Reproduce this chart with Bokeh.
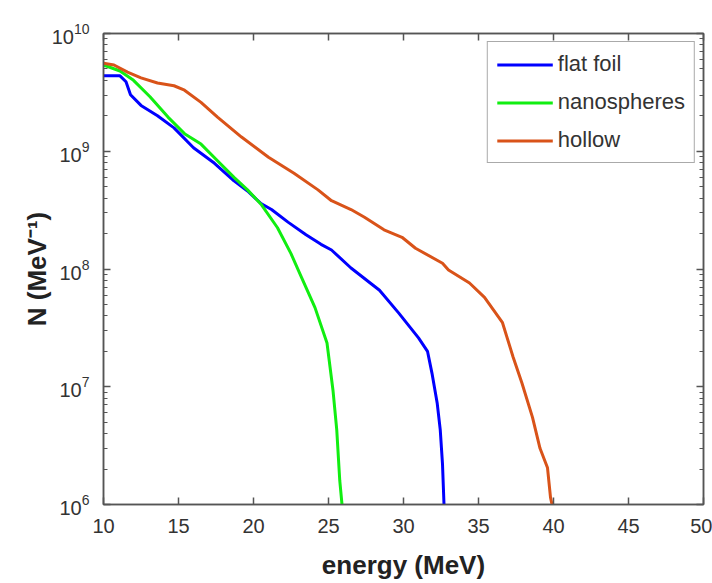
from bokeh.plotting import figure
from bokeh.models import (LinearAxis, LogAxis, FixedTicker, LogTicker, Legend, LegendItem,
                          Range1d, CustomJSTickFormatter)
from bokeh.embed import file_html
from bokeh.resources import INLINE

# ---- data ----
flat_E = [10, 11.1, 11.5, 11.8, 12.5, 13.6, 14.7, 16.0, 17.4, 18.7, 19.6, 20.5, 21.2, 22.3,
          23.5, 24.5, 25.2, 26.5, 28.4, 29.7, 31.0, 31.6, 31.9, 32.25, 32.45, 32.6, 32.7]
flat_N = [4.37e9, 4.37e9, 3.89e9, 3.02e9, 2.45e9, 2.0e9, 1.58e9, 1.07e9, 7.9e8, 5.6e8, 4.6e8,
          3.6e8, 3.2e8, 2.5e8, 1.95e8, 1.62e8, 1.45e8, 1.02e8, 6.6e7, 4.2e7, 2.6e7, 2.0e7,
          1.3e7, 7.2e6, 4.3e6, 2.2e6, 1.0e6]

nano_E = [10, 11.1, 12.0, 13.1, 14.3, 15.4, 16.5, 17.6, 18.7, 19.6, 20.5, 21.6, 22.5, 23.2,
          24.1, 24.9, 25.3, 25.55, 25.75, 25.9]
nano_N = [5.4e9, 4.8e9, 4.0e9, 2.9e9, 1.95e9, 1.41e9, 1.15e9, 8.3e8, 6.0e8, 4.7e8, 3.55e8,
          2.24e8, 1.35e8, 8.5e7, 4.7e7, 2.35e7, 9.3e6, 4.3e6, 1.6e6, 1.0e6]

hollow_E = [10, 10.7, 11.6, 12.5, 13.6, 14.7, 15.4, 16.5, 17.6, 19.2, 21.0, 22.7, 24.3, 25.2,
            26.5, 27.4, 28.7, 29.9, 30.8, 32.6, 33.0, 34.4, 35.4, 36.6, 37.3, 37.9, 38.6,
            39.1, 39.6, 39.8, 39.9]
hollow_N = [5.6e9, 5.4e9, 4.7e9, 4.2e9, 3.8e9, 3.6e9, 3.3e9, 2.6e9, 1.95e9, 1.32e9, 8.9e8,
            6.5e8, 4.7e8, 3.8e8, 3.2e8, 2.75e8, 2.15e8, 1.86e8, 1.5e8, 1.12e8, 9.8e7, 7.6e7,
            5.75e7, 3.5e7, 1.8e7, 1.07e7, 5.5e6, 3.0e6, 2.05e6, 1.15e6, 1.0e6]

x_ticks = [10, 15, 20, 25, 30, 35, 40, 45, 50]
series_names = ["flat foil", "nanospheres", "hollow"]
series_colors = ["#0000ff", "#11ee11", "#d95319"]

FONT = "Liberation Sans"
AX = "#555555"

p = figure(width=712, height=583, x_axis_type="linear", y_axis_type="log",
           x_range=Range1d(10, 50), y_range=Range1d(1e6, 1e10),
           output_backend="svg", toolbar_location=None,
           min_border_left=103, min_border_right=9, min_border_top=33, min_border_bottom=79)
p.xgrid.visible = False
p.ygrid.visible = False
p.outline_line_color = AX
p.outline_line_width = 1.5
p.background_fill_color = "white"

rs = []
for E, N, c in zip([flat_E, nano_E, hollow_E], [flat_N, nano_N, hollow_N], series_colors):
    rs.append(p.line(E, N, line_color=c, line_width=3))

# axes
xa = p.xaxis[0]
xa.ticker = FixedTicker(ticks=x_ticks)
ya = p.yaxis[0]
ya.ticker = LogTicker(num_minor_ticks=10)
for ax in (xa, ya):
    ax.axis_line_color = AX
    ax.axis_line_width = 1.5
    ax.major_tick_in = 7
    ax.major_tick_out = 0
    ax.minor_tick_in = 4
    ax.minor_tick_out = 0
    ax.major_tick_line_color = AX
    ax.minor_tick_line_color = AX
    ax.major_tick_line_width = 1.5
    ax.major_label_text_font = FONT
    ax.major_label_text_font_size = "20px"
    ax.major_label_text_color = "#333333"
    ax.axis_label_text_font = FONT
    ax.axis_label_text_font_style = "bold"
    ax.axis_label_text_color = "#222222"
xa.axis_label = "energy (MeV)"
xa.axis_label_text_font_size = "26px"
xa.major_label_standoff = 14
xa.axis_label_standoff = 14
ya.axis_label = "N (MeV\u207b\u00b9)"
ya.axis_label_text_font_size = "26px"
ya.major_label_standoff = 14
ya.axis_label_standoff = -3

blank = CustomJSTickFormatter(code="return ''")
top = LinearAxis(ticker=FixedTicker(ticks=x_ticks), formatter=blank)
right = LogAxis(ticker=LogTicker(num_minor_ticks=10), formatter=blank)
for ax in (top, right):
    ax.axis_line_color = AX
    ax.axis_line_width = 1.5
    ax.major_tick_in = 7
    ax.major_tick_out = 0
    ax.minor_tick_in = 4
    ax.minor_tick_out = 0
    ax.major_tick_line_color = AX
    ax.minor_tick_line_color = AX
    ax.major_tick_line_width = 1.5
    ax.major_label_standoff = 0
p.add_layout(top, "above")
p.add_layout(right, "right")

legend = Legend(items=[LegendItem(label=n, renderers=[r]) for n, r in zip(series_names, rs)],
                location="top_right")
legend.margin = 8
legend.padding = 9
legend.spacing = 12
legend.glyph_width = 56
legend.glyph_height = 25
legend.label_height = 25
legend.label_standoff = 5
legend.label_text_font = FONT
legend.label_text_font_size = "22px"
legend.label_text_color = "#333333"
legend.border_line_color = AX
legend.border_line_width = 1.5
legend.background_fill_color = "white"
legend.background_fill_alpha = 1.0
p.add_layout(legend, "center")

open("out.html", "w").write(file_html(p, INLINE))
